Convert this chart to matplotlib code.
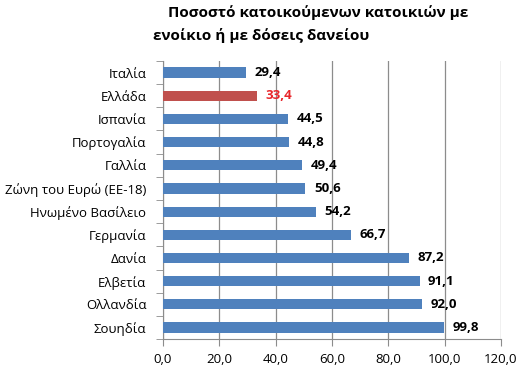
import matplotlib.pyplot as plt
import numpy as np

plt.rcParams['font.family'] = ['Open Sans', 'DejaVu Sans']

# δεδομένα
countries = ['Ιταλία', 'Ελλάδα', 'Ισπανία', 'Πορτογαλία', 'Γαλλία', 'Ζώνη του Ευρώ (ΕΕ-18)',
             'Ηνωμένο Βασίλειο', 'Γερμανία', 'Δανία', 'Ελβετία', 'Ολλανδία', 'Σουηδία']
values = [29.4, 33.4, 44.5, 44.8, 49.4, 50.6, 54.2, 66.7, 87.2, 91.1, 92.0, 99.8]
highlight = 'Ελλάδα'
x_ticks = [0, 20, 40, 60, 80, 100, 120]

blue = '#4F81BD'
red = '#C0504D'
label_red = '#E8262B'
grey = '#8C8C8C'

fig = plt.figure(figsize=(5.24, 3.76), dpi=100)
ax = fig.add_axes([0.311, 0.098, 0.645, 0.74])

y = np.arange(len(countries))
colors = [red if c == highlight else blue for c in countries]
ax.barh(y, values, height=0.44, color=colors, zorder=3)

for yi, v, c in zip(y, values, countries):
    ax.text(v + 3.0, yi, f'{v:.1f}'.replace('.', ','), va='center', ha='left',
            fontsize=9.5, fontweight='bold', color=label_red if c == highlight else 'black')

ax.set_ylim(len(countries) - 0.5, -0.5)
ax.set_xlim(0, 120)
ax.set_xticks(x_ticks)
ax.set_xticklabels([f'{t:.1f}'.replace('.', ',') for t in x_ticks], fontsize=9.5)
ax.set_yticks(y)
ax.set_yticklabels(countries, fontsize=9.5)
ax.tick_params(axis='y', length=0, pad=12)
ax.set_yticks(np.arange(-0.5, len(countries), 1), minor=True)
ax.tick_params(axis='y', which='minor', length=5, color=grey, direction='out')
ax.tick_params(axis='x', length=5, color=grey, pad=5)

ax.grid(axis='x', color=grey, linewidth=0.9, zorder=0)
for s in ['top', 'right']:
    ax.spines[s].set_visible(False)
for s in ['left', 'bottom']:
    ax.spines[s].set_color(grey)

fig.text(0.321, 0.985, 'Ποσοστό κατοικούμενων κατοικιών με',
         ha='left', va='top', fontsize=11, fontweight='bold')
fig.text(0.292, 0.925, 'ενοίκιο ή με δόσεις δανείου',
         ha='left', va='top', fontsize=11, fontweight='bold')

plt.savefig('out.png', dpi=100)
